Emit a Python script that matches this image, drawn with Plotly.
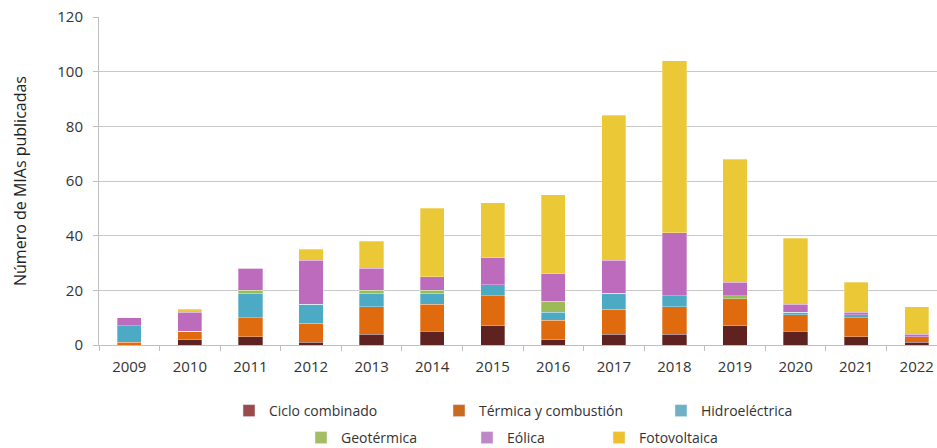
import plotly.graph_objects as go

years = ["2009", "2010", "2011", "2012", "2013", "2014", "2015", "2016",
         "2017", "2018", "2019", "2020", "2021", "2022"]

ciclo_combinado = [0, 2, 3, 1, 4, 5, 7, 2, 4, 4, 7, 5, 3, 1]
termica_combustion = [1, 3, 7, 7, 10, 10, 11, 7, 9, 10, 10, 6, 7, 2]
hidroelectrica = [6, 0, 9, 7, 5, 4, 4, 3, 6, 4, 0, 1, 1, 0]
geotermica = [0, 0, 1, 0, 1, 1, 0, 4, 0, 0, 1, 0, 0, 0]
eolica = [3, 7, 8, 16, 8, 5, 10, 10, 12, 23, 5, 3, 1, 1]
fotovoltaica = [0, 1, 0, 4, 10, 25, 20, 29, 53, 63, 45, 24, 11, 10]

series_names = ["Ciclo combinado", "Térmica y combustión", "Hidroeléctrica",
                "Geotérmica", "Eólica", "Fotovoltaica"]
series_values = [ciclo_combinado, termica_combustion, hidroelectrica,
                 geotermica, eolica, fotovoltaica]
bar_colors = ["#5e2320", "#e06a0e", "#4caac4", "#9cbb58", "#bd6cbd", "#ebc836"]
legend_colors = ["#9b4a4a", "#c96a1e", "#6fb0c6", "#a3bd60", "#be87c8", "#eec02e"]

# legend positions (container pixels: left x of item, center y)
legend_pos = [(229, 411), (439, 411), (661, 411), (301, 438), (467, 438), (599, 438)]

W, H = 937, 448
font = "Open Sans, Noto Sans, sans-serif"
fig = go.Figure()
for name, vals, col in zip(series_names, series_values, bar_colors):
    fig.add_trace(go.Bar(
        x=years, y=vals, name=name, showlegend=False,
        marker=dict(color=col, line=dict(color="rgba(255,255,255,0.6)", width=0.5)),
    ))

# legend entries
for i, (name, col) in enumerate(zip(series_names, legend_colors)):
    lg = "legend" if i == 0 else f"legend{i+1}"
    fig.add_trace(go.Bar(
        x=[None], y=[None], name=name, legend=lg, showlegend=True,
        marker=dict(color=col),
    ))

layout_legends = {}
for i, (px, py) in enumerate(legend_pos):
    key = "legend" if i == 0 else f"legend{i+1}"
    layout_legends[key] = dict(
        xref="container", yref="container",
        x=px / W, y=1 - py / H, xanchor="left", yanchor="middle",
        orientation="h", bgcolor="rgba(0,0,0,0)",
        font=dict(family=font, size=14, color="#333333"),
        itemclick=False, itemdoubleclick=False,
    )

fig.update_layout(
    barmode="stack",
    bargap=0.6,
    showlegend=True,
    width=W, height=H,
    margin=dict(l=99, r=0, t=17, b=103, autoexpand=False),
    plot_bgcolor="white", paper_bgcolor="white",
    font=dict(family=font, size=15, color="#333333"),
    xaxis=dict(
        range=[-0.5, 13.335],
        showline=True, linecolor="#bfbfbf", linewidth=1,
        ticks="outside", tickson="boundaries", ticklen=5, tickcolor="#bfbfbf",
        showgrid=False, tickfont=dict(size=15, color="#333333"),
        ticklabelstandoff=8,
    ),
    yaxis=dict(
        title=dict(text="Número de MIAs publicadas", font=dict(size=16, color="#222222"), standoff=26),
        range=[0, 120], tickvals=[0, 20, 40, 60, 80, 100, 120],
        showline=True, linecolor="#bfbfbf", linewidth=1,
        ticks="outside", ticklen=5, tickcolor="#bfbfbf",
        showgrid=True, gridcolor="#c8c8c8", gridwidth=1,
        zeroline=False, tickfont=dict(size=15, color="#333333"),
        ticklabelstandoff=7,
    ),
    **layout_legends,
)

fig.write_html("out.html", config={"displayModeBar": False},
               post_script="document.body.style.margin='0';")
